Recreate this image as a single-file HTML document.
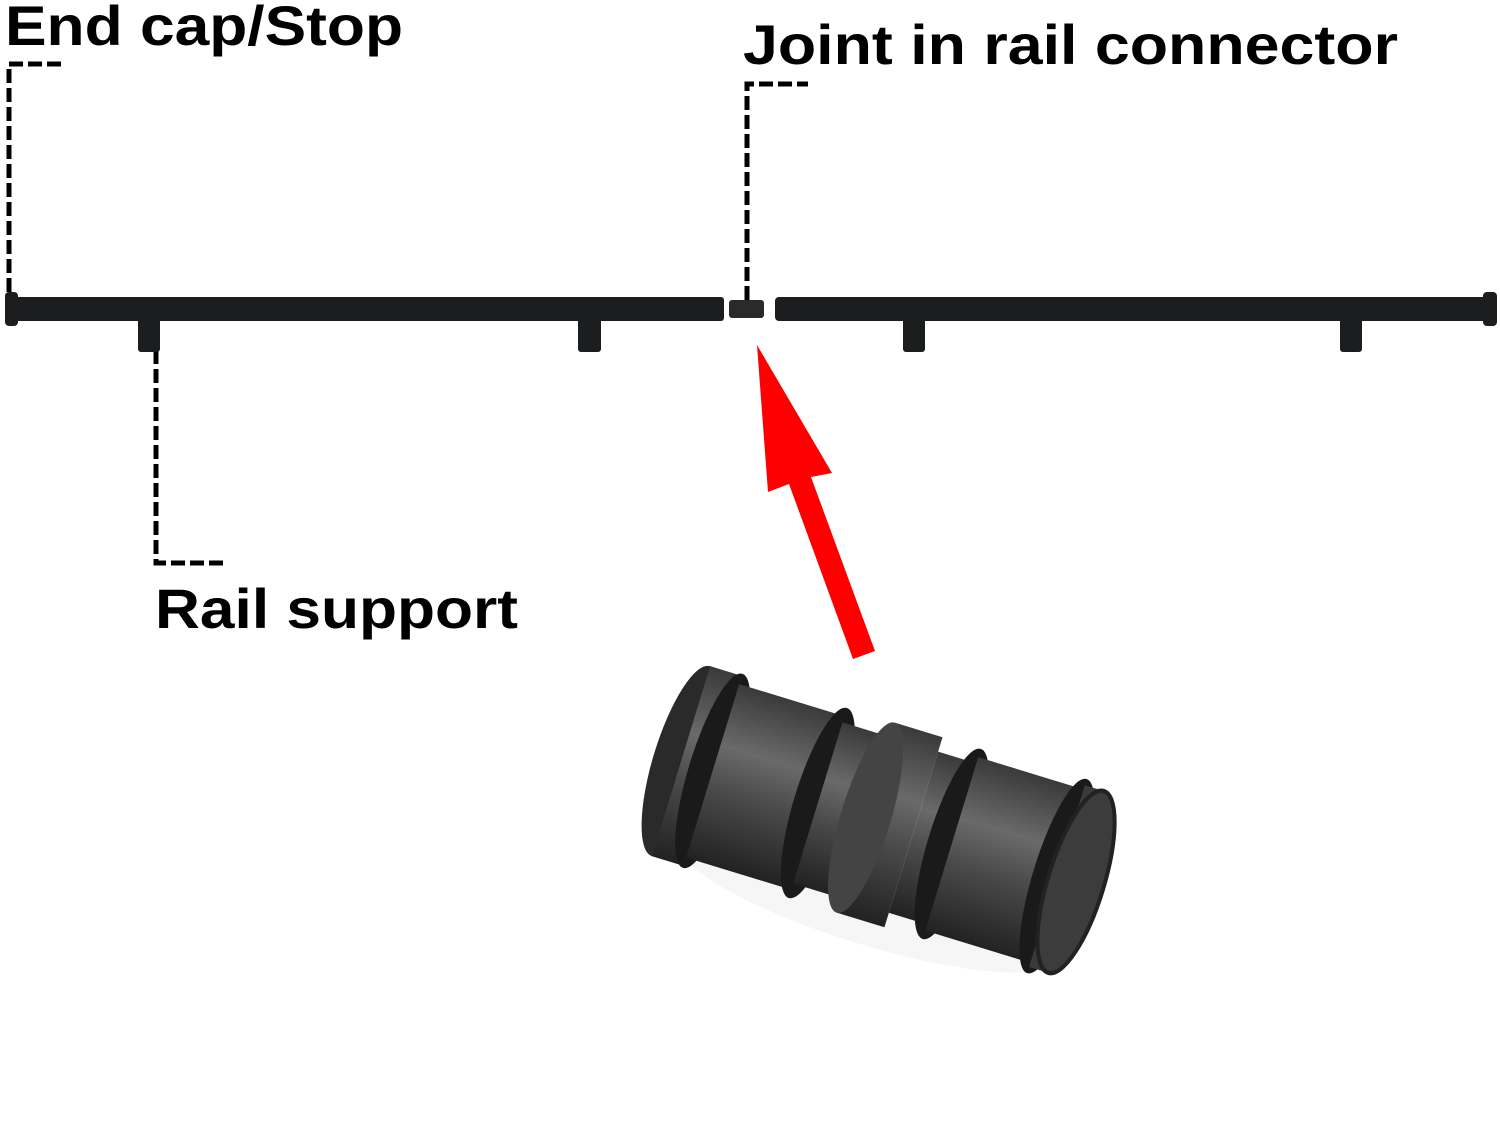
<!DOCTYPE html>
<html><head><meta charset="utf-8"><style>
html,body{margin:0;padding:0;background:#fff;}
svg{display:block}
text{font-family:"Liberation Sans",sans-serif;font-weight:bold;fill:#000}
</style></head><body>
<svg width="1500" height="1129" viewBox="0 0 1500 1129">
<defs>
<linearGradient id="cyl" x1="0" y1="0" x2="0" y2="1">
<stop offset="0" stop-color="#3a3a3a"/><stop offset="0.35" stop-color="#6a6a6a"/><stop offset="0.6" stop-color="#4a4a4a"/><stop offset="1" stop-color="#222"/>
</linearGradient>
</defs>
<text x="5" y="45" font-size="56" textLength="398" lengthAdjust="spacingAndGlyphs">End cap/Stop</text>
<text x="743" y="64" font-size="56" textLength="655" lengthAdjust="spacingAndGlyphs">Joint in rail connector</text>
<text x="155" y="628" font-size="56" textLength="363" lengthAdjust="spacingAndGlyphs">Rail support</text>
<g stroke="#000" stroke-width="5" fill="none" stroke-dasharray="14,5">
<path d="M9 292 V64 H64"/>
<path d="M747 300 V84 H808"/>
<path d="M156 350 V563 H224"/>
</g>
<g fill="#1c1d1f">
<rect x="14" y="297" width="710" height="24" rx="3"/>
<rect x="5" y="292" width="13" height="34" rx="4"/>
<rect x="775" y="297" width="712" height="24" rx="4"/>
<rect x="1483" y="292" width="14" height="34" rx="4"/>
<rect x="138" y="318" width="22" height="34" rx="3"/>
<rect x="578" y="318" width="23" height="34" rx="3"/>
<rect x="903" y="318" width="22" height="34" rx="3"/>
<rect x="1340" y="318" width="22" height="34" rx="3"/>
<rect x="729" y="300" width="35" height="18" rx="3" fill="#2a2a2a"/>
</g>
<polygon points="875,651 853,659 789,484 768,492 757,345 832,473 811,477" fill="#f00"/>
<ellipse cx="870" cy="900" rx="200" ry="45" fill="#f6f6f6" transform="rotate(17 870 900)"/>
<g transform="translate(880,822) rotate(17) scale(1.0,1.08)">
<ellipse cx="-208" cy="0" rx="28" ry="92" fill="#2a2a2a"/>
<rect x="-208" y="-92" width="33" height="184" fill="url(#cyl)"/>
<ellipse cx="-175" cy="0" rx="24" ry="94" fill="#1a1a1a"/>
<rect x="-175" y="-84" width="110" height="168" fill="url(#cyl)"/>
<ellipse cx="-65" cy="0" rx="24" ry="92" fill="#1a1a1a"/>
<rect x="-65" y="-78" width="60" height="156" fill="url(#cyl)"/>
<rect x="-15" y="-92" width="50" height="184" fill="url(#cyl)"/>
<ellipse cx="-15" cy="0" rx="25" ry="92" fill="#444"/>
<rect x="35" y="-78" width="40" height="156" fill="url(#cyl)"/>
<ellipse cx="75" cy="0" rx="24" ry="92" fill="#1a1a1a"/>
<rect x="75" y="-84" width="110" height="168" fill="url(#cyl)"/>
<ellipse cx="185" cy="0" rx="24" ry="94" fill="#1a1a1a"/>
<rect x="185" y="-88" width="20" height="176" fill="#3a3a3a"/>
<ellipse cx="205" cy="0" rx="28" ry="88" fill="#3c3c3c" stroke="#222" stroke-width="4"/>
</g>
</svg>
</body></html>
